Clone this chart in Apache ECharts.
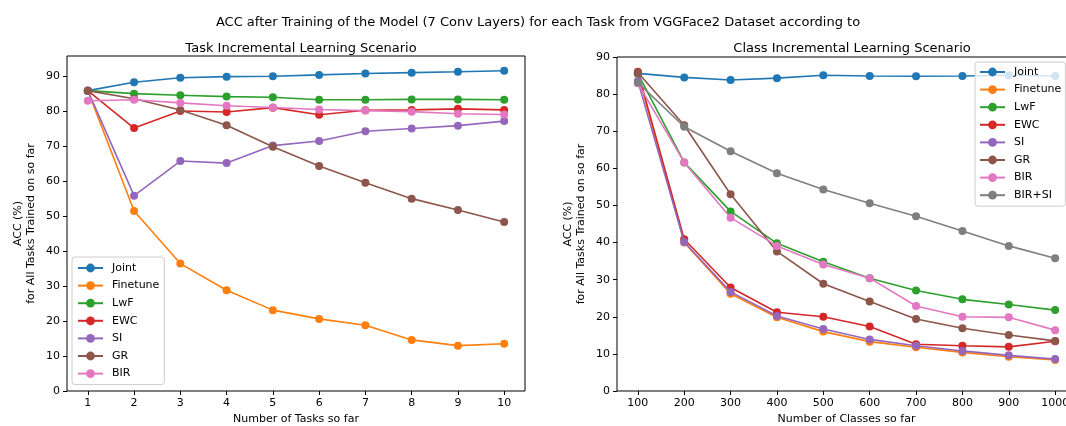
<!DOCTYPE html>
<html>
<head>
<meta charset="utf-8">
<script src="https://cdn.jsdelivr.net/npm/echarts@6/dist/echarts.min.js"></script>
<style>html,body{margin:0;padding:0;background:#fff;overflow:hidden}#c{width:1066px;height:426px}</style>
</head>
<body>
<div id="c"></div>
<script>
// ---- data ----
const tasks = [1, 2, 3, 4, 5, 6, 7, 8, 9, 10];
const classes = [100, 200, 300, 400, 500, 600, 700, 800, 900, 1000];
const leftYTicks = [0, 10, 20, 30, 40, 50, 60, 70, 80, 90];
const rightYTicks = [0, 10, 20, 30, 40, 50, 60, 70, 80, 90];

// Task incremental scenario
const tJoint    = [85.8, 88.2, 89.5, 89.8, 89.9, 90.3, 90.7, 90.95, 91.2, 91.5];
const tFinetune = [85.8, 51.4, 36.4, 28.8, 23.1, 20.6, 18.8, 14.6, 12.95, 13.5];
const tLwF      = [85.8, 84.95, 84.5, 84.1, 83.9, 83.2, 83.2, 83.3, 83.3, 83.2];
const tEWC      = [85.8, 75.1, 80.0, 79.7, 80.95, 78.9, 80.2, 80.3, 80.6, 80.3];
const tSI       = [85.8, 55.8, 65.7, 65.1, 70.1, 71.4, 74.2, 75.0, 75.8, 77.1];
const tGR       = [85.8, 83.5, 80.3, 75.9, 69.8, 64.3, 59.5, 54.95, 51.7, 48.3];
const tBIR      = [82.9, 83.2, 82.3, 81.5, 81.0, 80.4, 80.1, 79.8, 79.2, 79.0];

// Class incremental scenario
const cJoint    = [85.6, 84.5, 83.8, 84.3, 85.1, 84.9, 84.8, 84.9, 85.1, 84.9];
const cFinetune = [85.5, 40.0, 26.2, 19.85, 16.0, 13.3, 11.8, 10.4, 9.25, 8.35];
const cLwF      = [85.5, 61.6, 48.4, 39.8, 34.85, 30.4, 27.1, 24.7, 23.3, 21.8];
const cEWC      = [86.05, 40.9, 27.9, 21.2, 20.0, 17.4, 12.6, 12.2, 11.9, 13.4];
const cSI       = [83.5, 40.15, 26.7, 20.2, 16.7, 13.9, 12.2, 10.8, 9.6, 8.6];
const cGR       = [85.8, 71.6, 53.0, 37.6, 28.9, 24.1, 19.4, 16.9, 15.1, 13.5];
const cBIR      = [82.9, 61.6, 46.7, 39.1, 34.1, 30.4, 22.9, 20.0, 19.85, 16.4];
const cBIRSI    = [83.1, 71.2, 64.6, 58.65, 54.3, 50.6, 47.1, 43.1, 39.1, 35.75];

const leftNames = ['Joint', 'Finetune', 'LwF', 'EWC', 'SI', 'GR', 'BIR'];
const rightNames = ['Joint', 'Finetune', 'LwF', 'EWC', 'SI', 'GR', 'BIR', 'BIR+SI'];
const colors = ['#1f77b4', '#ff7f0e', '#2ca02c', '#d62728', '#9467bd', '#8c564b', '#e377c2', '#7f7f7f'];

// ---- chart ----
const FONT = 'DejaVu Sans';
const leftData = [tJoint, tFinetune, tLwF, tEWC, tSI, tGR, tBIR];
const rightData = [cJoint, cFinetune, cLwF, cEWC, cSI, cGR, cBIR, cBIRSI];

function mkSeries(names, data, xs, idx) {
  return names.map((n, i) => ({
    name: n, type: 'line', xAxisIndex: idx, yAxisIndex: idx,
    data: xs.map((x, k) => [x, data[i][k]]),
    symbol: 'circle', symbolSize: 8,
    itemStyle: { color: colors[i] },
    lineStyle: { color: colors[i], width: 1.6 },
    emphasis: { disabled: true },
    animation: false, z: 2 + i * 0.01
  }));
}

const axisCommon = {
  axisLine: { show: false },
  axisTick: { show: true, length: 4, lineStyle: { color: '#000', width: 1 } },
  axisLabel: { color: '#000', fontFamily: FONT, fontSize: 11, margin: 7, formatter: v => String(v) },
  splitLine: { show: false },
  nameTextStyle: { color: '#000', fontFamily: FONT, fontSize: 11 }
};

function mkXAxis(idx, min, max, ticks, name) {
  return Object.assign({}, axisCommon, {
    type: 'value', gridIndex: idx, min: min, max: max,
    axisTick: Object.assign({}, axisCommon.axisTick, { customValues: ticks }),
    axisLabel: Object.assign({}, axisCommon.axisLabel, { customValues: ticks }),
    name: name, nameLocation: 'middle', nameGap: 22
  });
}
function mkYAxis(idx, min, max, ticks) {
  return Object.assign({}, axisCommon, {
    type: 'value', gridIndex: idx, min: min, max: max,
    axisTick: Object.assign({}, axisCommon.axisTick, { customValues: ticks }),
    axisLabel: Object.assign({}, axisCommon.axisLabel, { customValues: ticks }),
    name: 'ACC (%)\nfor All Tasks Trained on so far', nameLocation: 'middle', nameGap: 29,
    nameTextStyle: { color: '#000', fontFamily: FONT, fontSize: 11, lineHeight: 13 }
  });
}

const legendCommon = {
  orient: 'vertical', itemWidth: 25, itemHeight: 11, itemGap: 5.6,
  padding: [5, 5, 5, 5],
  backgroundColor: 'rgba(255,255,255,0.8)', borderColor: '#cccccc', borderWidth: 1, borderRadius: 3,
  textStyle: { color: '#000', fontFamily: FONT, fontSize: 11, lineHeight: 12, padding: [0, 0, 0, 4] },
  selectedMode: false, z: 10
};

const chart = echarts.init(document.getElementById('c'), null, { renderer: 'canvas' });
chart.setOption({
  animation: false,
  backgroundColor: '#fff',
  title: [
    { text: 'ACC after Training of the Model (7 Conv Layers) for each Task from VGGFace2 Dataset according to',
      left: 533, top: 11, textAlign: 'center',
      textStyle: { color: '#000', fontFamily: FONT, fontSize: 13, fontWeight: 'normal' } },
    { text: 'Task Incremental Learning Scenario', left: 296, top: 37, textAlign: 'center',
      textStyle: { color: '#000', fontFamily: FONT, fontSize: 13, fontWeight: 'normal' } },
    { text: 'Class Incremental Learning Scenario', left: 847, top: 37, textAlign: 'center',
      textStyle: { color: '#000', fontFamily: FONT, fontSize: 13, fontWeight: 'normal' } }
  ],
  grid: [
    { left: 67, top: 56, width: 458, height: 335, show: true, borderColor: '#000', borderWidth: 1,
      backgroundColor: 'transparent', outerBoundsMode: 'none', containLabel: false },
    { left: 617, top: 57, width: 459, height: 334, show: true, borderColor: '#000', borderWidth: 1,
      backgroundColor: 'transparent', outerBoundsMode: 'none', containLabel: false }
  ],
  xAxis: [
    mkXAxis(0, 0.55, 10.45, tasks, 'Number of Tasks so far'),
    mkXAxis(1, 55, 1045, classes, 'Number of Classes so far')
  ],
  yAxis: [
    mkYAxis(0, 0, 95.7, leftYTicks),
    mkYAxis(1, 0, 90, rightYTicks)
  ],
  legend: [
    Object.assign({}, legendCommon, { data: leftNames, left: 72, top: 257 }),
    Object.assign({}, legendCommon, { data: rightNames, left: 975, top: 62, padding: [4, 4, 5, 4] })
  ],
  series: mkSeries(leftNames, leftData, tasks, 0).concat(mkSeries(rightNames, rightData, classes, 1))
});
</script>
</body>
</html>
